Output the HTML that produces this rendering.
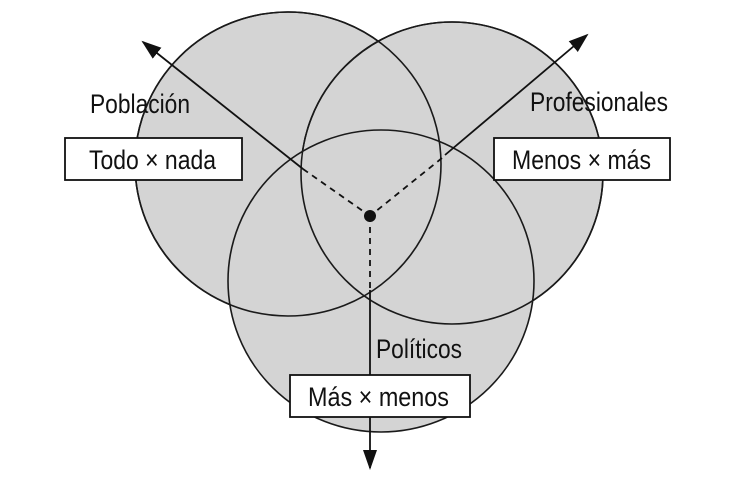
<!DOCTYPE html>
<html><head><meta charset="utf-8"><style>
html,body{margin:0;padding:0;background:#fff;}
svg{display:block}
text{font-family:"Liberation Sans",sans-serif;font-size:27px;fill:#111;}
</style></head><body>
<svg width="730" height="496" viewBox="0 0 730 496">
<defs><marker id="a" markerWidth="20" markerHeight="14" refX="18" refY="7" orient="auto" markerUnits="userSpaceOnUse" viewBox="0 0 20 14"><path d="M0,0 L20,7 L0,14 z" fill="#111"/></marker></defs>
<g fill="#d4d4d4" stroke="#1a1a1a" stroke-width="1.6">
<ellipse cx="288" cy="164" rx="153" ry="152"/>
<ellipse cx="452" cy="173" rx="151" ry="151"/>
<ellipse cx="381" cy="281" rx="153" ry="151"/>
</g>
<g fill="none" stroke="#1a1a1a" stroke-width="1.6">
<ellipse cx="288" cy="164" rx="153" ry="152"/>
<ellipse cx="452" cy="173" rx="151" ry="151"/>
</g>
<g stroke="#111" stroke-width="1.8" fill="none">
<line x1="303" y1="169" x2="143" y2="42" marker-end="url(#a)"/>
<line x1="445" y1="155" x2="587" y2="35" marker-end="url(#a)"/>
<line x1="370" y1="290" x2="370" y2="468" marker-end="url(#a)"/>
<g stroke-dasharray="6,5">
<line x1="303" y1="169" x2="370" y2="216"/>
<line x1="442" y1="158" x2="370" y2="216"/>
<line x1="370" y1="216" x2="370" y2="290"/>
</g>
</g>
<circle cx="370" cy="216" r="6" fill="#111"/>
<g fill="#fff" stroke="#111" stroke-width="1.8">
<rect x="65" y="138" width="177" height="42"/>
<rect x="494" y="138" width="176" height="42"/>
<rect x="290" y="375" width="180" height="42"/>
</g>
<text x="90" y="113" textLength="100" lengthAdjust="spacingAndGlyphs">Población</text>
<text x="530" y="111" textLength="138" lengthAdjust="spacingAndGlyphs">Profesionales</text>
<text x="376" y="358" textLength="86" lengthAdjust="spacingAndGlyphs">Políticos</text>
<text x="89" y="169" textLength="127" lengthAdjust="spacingAndGlyphs">Todo × nada</text>
<text x="512" y="169" textLength="139" lengthAdjust="spacingAndGlyphs">Menos × más</text>
<text x="308" y="406" textLength="141" lengthAdjust="spacingAndGlyphs">Más × menos</text>
</svg>
</body></html>
